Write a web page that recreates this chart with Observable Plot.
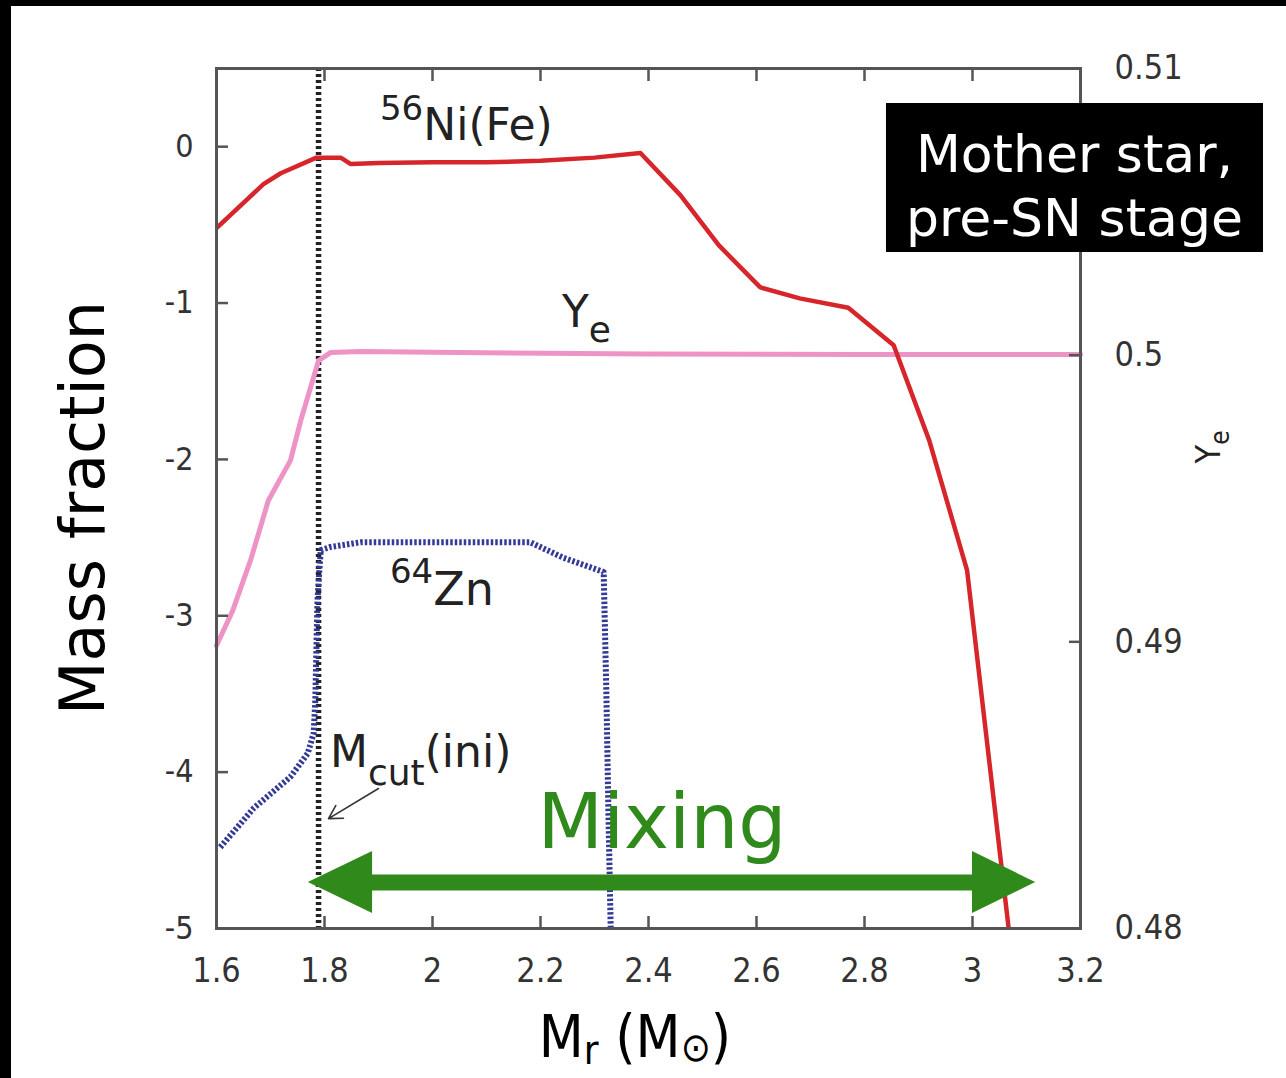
<!DOCTYPE html>
<html><head><meta charset="utf-8">
<script src="https://cdn.jsdelivr.net/npm/d3@7"></script>
<script src="https://cdn.jsdelivr.net/npm/@observablehq/plot@0.6"></script>
<style>
html,body{margin:0;padding:0;background:#fff;}
#wrap{position:relative;width:1286px;height:1078px;overflow:hidden;background:#fff;}
#chart svg{display:block;}
.band{position:absolute;background:#000;}
</style></head><body>
<div id="wrap"><div id="chart"></div>
<div class="band" style="left:0;top:0;width:1286px;height:6px"></div>
<div class="band" style="left:0;top:0;width:11px;height:1078px"></div>
</div>
<script>
// ---- axes / ticks ----
const xDomain = [1.6, 3.2];
const yDomain = [-5, 0.5];
const yeDomain = [0.48, 0.51];
const xTicks = [1.6, 1.8, 2, 2.2, 2.4, 2.6, 2.8, 3, 3.2];
const xInnerTicks = [1.8, 2, 2.2, 2.4, 2.6, 2.8, 3];
const yTicks = [-5, -4, -3, -2, -1, 0];
const yeTicks = [0.48, 0.49, 0.5, 0.51];
const yeInnerTicks = [0.49, 0.5];

// ---- series: 56Ni(Fe) mass fraction (log) ----
const niX = [1.6, 1.687, 1.719, 1.785, 1.83, 1.848, 1.9, 2.0, 2.1, 2.2, 2.3, 2.385, 2.459, 2.53, 2.607, 2.68, 2.77, 2.854, 2.92, 2.99, 3.067];
const niY = [-0.52, -0.24, -0.17, -0.07, -0.07, -0.11, -0.105, -0.10, -0.10, -0.09, -0.07, -0.04, -0.31, -0.63, -0.90, -0.97, -1.03, -1.27, -1.88, -2.71, -5.0];

// ---- series: Ye (right axis) ----
const yeX = [1.6, 1.63, 1.663, 1.696, 1.737, 1.756, 1.789, 1.811, 1.867, 2.0, 2.4, 2.8, 3.2];
const yeVal = [0.48987, 0.49109, 0.49284, 0.49493, 0.49633, 0.49772, 0.49981, 0.50009, 0.50013, 0.5001, 0.50004, 0.50002, 0.50002];

// ---- series: 64Zn mass fraction (log) ----
const znX = [1.607, 1.669, 1.737, 1.769, 1.78, 1.783, 1.787, 1.793, 1.811, 1.867, 2.0, 2.1, 2.181, 2.243, 2.317, 2.322, 2.326, 2.33];
const znY = [-4.48, -4.23, -4.03, -3.88, -3.75, -3.54, -2.90, -2.58, -2.56, -2.53, -2.53, -2.53, -2.53, -2.63, -2.72, -3.5, -4.3, -5.0];

// ---- Mcut(ini) ----
const mcutX = [1.789];

// ---- annotations (data coordinates) ----
const mixArrowY = -4.706;
const mixArrowHalf = 0.198;
const mixShaft = [1.88, 3.01];
const mixLeftHead = [1.770, 1.889];
const mixRightHead = [3.117, 3.0];
const boxRect = {x1: 2.8407, x2: 3.5389, y1: -0.6768, y2: 0.2762};
const boxText = {x: 3.1889, y: -0.238, text: "Mother star,\npre-SN stage"};
const cutArrow = {x1: 1.9, y1: -4.105, x2: 1.8074, y2: -4.297};
const labNi = {x: 1.9037, y: 0.0395};
const labYe = {x: 2.2407, y: -1.156};
const labZn = {x: 1.9222, y: -2.934};
const labCut = {x: 1.8111, y: -3.970};
const labMix = {x: 2.4259, y: -4.488, text: "Mixing"};

const toLeft = v => yDomain[0] + (v - yeDomain[0]) / (yeDomain[1] - yeDomain[0]) * (yDomain[1] - yDomain[0]);
const yeLabel = new Map(yeTicks.map(t => [toLeft(t), String(t)]));

const ni = niX.map((x, i) => ({x, y: niY[i]}));
const ye = yeX.map((x, i) => ({x, y: toLeft(yeVal[i])}));
const zn = znX.map((x, i) => ({x, y: znY[i]}));
const green = "#2f8a1b";
const cond = "'DejaVu Sans Condensed', 'DejaVu Sans', sans-serif";

const plot = Plot.plot({
  width: 1286, height: 1078,
  marginLeft: 216, marginRight: 206, marginTop: 68, marginBottom: 150,
  x: {domain: xDomain},
  y: {domain: yDomain},
  style: {fontFamily: "'DejaVu Sans', sans-serif", background: "transparent", overflow: "visible"},
  marks: [
    Plot.ruleX(mcutX, {stroke: "#222", strokeWidth: 5.5, strokeDasharray: "3,3", strokeLinecap: "butt"}),
    Plot.line(zn, {x: "x", y: "y", stroke: "#343a96", strokeWidth: 6, strokeDasharray: "2.5,2", strokeLinecap: "butt"}),
    Plot.line(ye, {x: "x", y: "y", stroke: "#ee93c6", strokeWidth: 5}),
    Plot.line(ni, {x: "x", y: "y", stroke: "#d7262b", strokeWidth: 4.5, clip: true}),
    // axes (inward ticks)
    Plot.axisX(xInnerTicks, {anchor: "bottom", tickSize: -12, tickFormat: () => "", stroke: "#555", strokeWidth: 2.5, label: null}),
    Plot.axisX(xInnerTicks, {anchor: "top", tickSize: -12, tickFormat: () => "", stroke: "#555", strokeWidth: 2.5, label: null}),
    Plot.axisX(xTicks, {anchor: "bottom", tickSize: 0, tickPadding: 29, fontSize: 34, fontFamily: cond, fill: "#333", tickFormat: d => String(d), label: null}),
    Plot.axisY(yTicks, {anchor: "left", tickSize: -12, tickPadding: 35, fontSize: 32, fontFamily: cond, fill: "#333", stroke: "#555", strokeWidth: 2.5, tickFormat: d => String(d), label: null}),
    Plot.axisY(yeInnerTicks.map(toLeft), {anchor: "right", tickSize: -12, tickFormat: () => "", stroke: "#555", strokeWidth: 2.5, label: null}),
    Plot.axisY(yeTicks.map(toLeft), {anchor: "right", tickSize: 0, tickPadding: 34, fontSize: 34, fontFamily: cond, fill: "#333", tickFormat: d => yeLabel.get(d), label: null}),
    Plot.frame({stroke: "#555", strokeWidth: 3}),
    // Mixing double arrow
    Plot.line(mixShaft.map(x => ({x, y: mixArrowY})), {x: "x", y: "y", stroke: green, strokeWidth: 16, strokeLinecap: "butt"}),
    Plot.areaY(mixLeftHead.map((x, i) => ({x, y1: mixArrowY - i * mixArrowHalf, y2: mixArrowY + i * mixArrowHalf})), {x: "x", y1: "y1", y2: "y2", fill: green}),
    Plot.areaY(mixRightHead.map((x, i) => ({x, y1: mixArrowY - i * mixArrowHalf, y2: mixArrowY + i * mixArrowHalf})), {x: "x", y1: "y1", y2: "y2", fill: green}),
    // small arrow to Mcut
    Plot.arrow([cutArrow], {x1: "x1", y1: "y1", x2: "x2", y2: "y2", stroke: "#333", strokeWidth: 1.6, headLength: 14, bend: 0}),
    // black label box
    Plot.rect([boxRect], {x1: "x1", x2: "x2", y1: "y1", y2: "y2", fill: "black"}),
    Plot.text([boxText], {x: "x", y: "y", text: "text", fill: "white", fontSize: 52, lineHeight: 1.23, textAnchor: "middle"})
  ]
});

document.getElementById("chart").append(plot);

// rich text annotations positioned via the plot's scales
const sx = plot.scale("x"), sy = plot.scale("y");
const svg = d3.select(plot);
function rich(x, y, parts, opts = {}) {
  const t = svg.append("text")
    .attr("x", x).attr("y", y)
    .attr("font-family", opts.family || "'DejaVu Sans', sans-serif")
    .attr("fill", opts.fill || "#222")
    .attr("text-anchor", opts.anchor || "start");
  if (opts.rotate) t.attr("transform", `rotate(${opts.rotate},${x},${y})`);
  let shift = 0;
  for (const p of parts) {
    const ts = t.append("tspan").attr("font-size", p.size).text(p.t);
    const want = p.shift || 0;
    ts.attr("dy", want - shift);
    shift = want;
  }
  return t;
}
rich(sx.apply(labNi.x), sy.apply(labNi.y), [{t: "56", size: 34, shift: -20}, {t: "Ni(Fe)", size: 44, shift: 0}]);
rich(sx.apply(labYe.x), sy.apply(labYe.y), [{t: "Y", size: 44, shift: 0}, {t: "e", size: 36, shift: 15}]);
rich(sx.apply(labZn.x), sy.apply(labZn.y), [{t: "64", size: 34, shift: -22}, {t: "Zn", size: 46, shift: 0}]);
rich(sx.apply(labCut.x), sy.apply(labCut.y), [{t: "M", size: 44, shift: 0}, {t: "cut", size: 36, shift: 18}, {t: "(ini)", size: 44, shift: 0}]);
rich(sx.apply(labMix.x), sy.apply(labMix.y), [{t: labMix.text, size: 76}], {fill: green, anchor: "middle"});

// axis titles
rich(104, 508, [{t: "Mass fraction", size: 62}], {fill: "#000", anchor: "middle", rotate: -90});
rich(635, 1057, [{t: "M", size: 58, shift: 0}, {t: "r", size: 40, shift: 7}, {t: " (M", size: 58, shift: 0}, {t: "⊙", size: 40, shift: 4}, {t: ")", size: 58, shift: 0}], {fill: "#000", anchor: "middle", family: cond});
rich(1220, 447, [{t: "Y", size: 34, shift: 0}, {t: "e", size: 26, shift: 9}], {fill: "#222", anchor: "middle", rotate: -90, family: cond});
</script>
</body></html>
